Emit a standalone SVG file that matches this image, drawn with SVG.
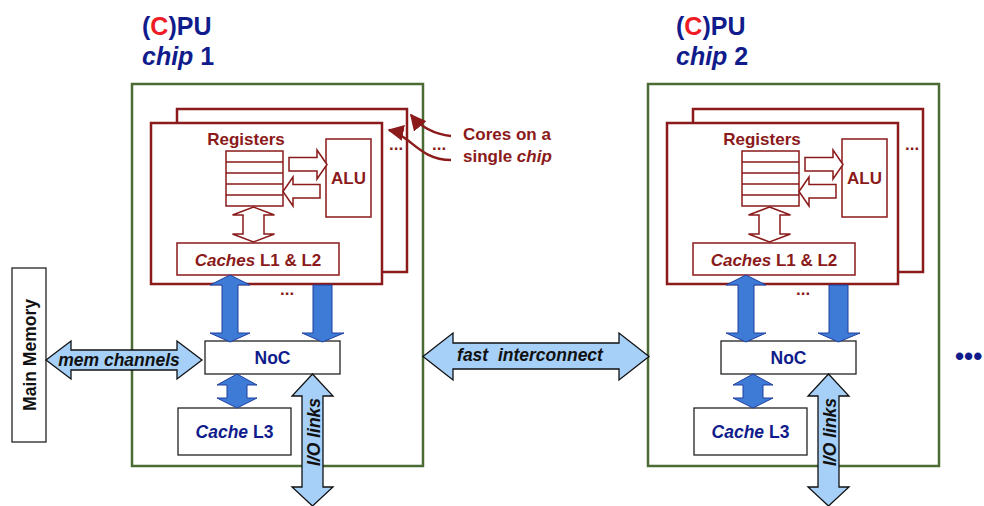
<svg xmlns="http://www.w3.org/2000/svg" width="984" height="506" viewBox="0 0 984 506">
  <defs>
    <style>
      text { font-family: "Liberation Sans", Arial, Helvetica, sans-serif; font-weight: bold; }
      .title { font-size: 25px; fill: #101C8C; }
      .red-c { fill: #EE1C25; }
      .chipbox { fill: #FFFFFF; stroke: #4A6B34; stroke-width: 2.5; }
      .core { fill: #FFFFFF; stroke: #8B1A1A; stroke-width: 2.5; }
      .inner { fill: #FFFFFF; stroke: #8B1A1A; stroke-width: 1.5; }
      .plain { fill: #FFFFFF; stroke: #222222; stroke-width: 1.3; }
      .dred { fill: #8B1A1A; font-size: 17px; }
      .navy { fill: #101C8C; font-size: 17.5px; }
      .blk { fill: #111111; font-size: 17.5px; }
      .hollow { fill: #FFFFFF; stroke: #8B1A1A; stroke-width: 1.5; stroke-linejoin: miter; }
      .solid { fill: #3E7BD6; stroke: #1F3E9E; stroke-width: 1; }
      .light { fill: #A6D0F8; stroke: #111111; stroke-width: 1.3; }
      .note { fill: none; stroke: #8B1A1A; stroke-width: 2.5; }
    </style>
    <marker id="redhead" viewBox="0 0 10 10" refX="9" refY="5" markerWidth="6.5" markerHeight="6.5" markerUnits="strokeWidth" orient="auto">
      <path d="M0,0 L10,5 L0,10 Z" fill="#8B1A1A"/>
    </marker>
  </defs>

  <rect width="984" height="506" fill="#FFFFFF"/>

  <!-- Chip 1 -->
  <g id="chip1">
    <text class="title" x="142" y="35">(<tspan class="red-c">C</tspan>)PU</text>
    <text class="title" x="142" y="65"><tspan font-style="italic">chip</tspan> 1</text>
    <rect class="chipbox" x="132" y="84" width="291" height="382"/>

    <g id="chip1-cores">
      <rect class="core" x="177" y="109" width="230" height="163"/>
      <rect class="core" x="151" y="123" width="231" height="161"/>
      <text class="dred" x="389" y="150" font-size="16">...</text>

      <g id="chip1-registers">
        <text class="dred" x="246" y="145" text-anchor="middle" font-size="17.5">Registers</text>
        <rect class="inner" x="226" y="151" width="57" height="55"/>
        <path d="M226,162 H283 M226,173 H283 M226,184 H283 M226,195 H283" stroke="#8B1A1A" stroke-width="1.5"/>
      </g>

      <g id="chip1-alu">
        <rect class="inner" x="326" y="139" width="45" height="78"/>
        <text class="dred" x="348.5" y="184" text-anchor="middle" font-size="16">ALU</text>
      </g>

      <g id="chip1-l1l2">
        <rect class="inner" x="177" y="243" width="162" height="32"/>
        <text class="dred" x="258" y="266" text-anchor="middle" font-size="17.5"><tspan font-style="italic">Caches</tspan> L1 &amp; L2</text>
      </g>
    </g>

    <g id="chip1-noc">
      <rect class="plain" x="205" y="341" width="135" height="33"/>
      <text class="navy" x="272.5" y="364" text-anchor="middle">NoC</text>
    </g>

    <g id="chip1-l3">
      <rect class="plain" x="178" y="408" width="113" height="47"/>
      <text class="navy" x="234.5" y="438" text-anchor="middle"><tspan font-style="italic">Cache</tspan> L3</text>
    </g>

    <text class="dred" x="280" y="295" font-size="14">...</text>
  </g>

  <!-- Annotation for the stacked cores -->
  <g id="cores-note">
    <text class="dred" x="463" y="140">Cores on a</text>
    <text class="dred" x="463" y="162">single <tspan font-style="italic">chip</tspan></text>
    <text class="dred" x="432" y="150" font-size="16">...</text>
    <path class="note" d="M451,136 C432,134 420,126 411,115" marker-end="url(#redhead)"/>
    <path class="note" d="M451,160 C428,160 416,146 406,139 C399,134 394,131 389,130" marker-end="url(#redhead)"/>
  </g>

  <!-- Main memory -->
  <g id="main-memory">
    <rect class="plain" x="12" y="268" width="34" height="174"/>
    <text class="blk" font-size="17" text-anchor="middle" transform="translate(36,355) rotate(-90)">Main Memory</text>
  </g>

  <!-- Chip 2 -->
  <g id="chip2" transform="translate(516,0)">
    <text class="title" x="160" y="35">(<tspan class="red-c">C</tspan>)PU</text>
    <text class="title" x="160" y="65"><tspan font-style="italic">chip</tspan> 2</text>
    <rect class="chipbox" x="132" y="84" width="291" height="382"/>

    <g id="chip2-cores">
      <rect class="core" x="177" y="109" width="230" height="163"/>
      <rect class="core" x="151" y="123" width="231" height="161"/>
      <text class="dred" x="389" y="150" font-size="16">...</text>

      <g id="chip2-registers">
        <text class="dred" x="246" y="145" text-anchor="middle" font-size="17.5">Registers</text>
        <rect class="inner" x="226" y="151" width="57" height="55"/>
        <path d="M226,162 H283 M226,173 H283 M226,184 H283 M226,195 H283" stroke="#8B1A1A" stroke-width="1.5"/>
      </g>

      <g id="chip2-alu">
        <rect class="inner" x="326" y="139" width="45" height="78"/>
        <text class="dred" x="348.5" y="184" text-anchor="middle" font-size="16">ALU</text>
      </g>

      <g id="chip2-l1l2">
        <rect class="inner" x="177" y="243" width="162" height="32"/>
        <text class="dred" x="258" y="266" text-anchor="middle" font-size="17.5"><tspan font-style="italic">Caches</tspan> L1 &amp; L2</text>
      </g>
    </g>

    <g id="chip2-noc">
      <rect class="plain" x="205" y="341" width="135" height="33"/>
      <text class="navy" x="272.5" y="364" text-anchor="middle">NoC</text>
    </g>

    <g id="chip2-l3">
      <rect class="plain" x="178" y="408" width="113" height="47"/>
      <text class="navy" x="234.5" y="438" text-anchor="middle"><tspan font-style="italic">Cache</tspan> L3</text>
    </g>

    <text class="dred" x="280" y="295" font-size="14">...</text>
  </g>

  <!-- More chips follow -->
  <text id="more-chips" x="955" y="365" font-size="26" fill="#101C8C">•••</text>

  <!-- Connectors -->
  <g id="connectors">
    <!-- chip 1 -->
    <polygon class="hollow" points="289,157.5 317,157.5 317,150 327,164.5 317,179 317,171 289,171"/>
    <polygon class="hollow" points="320,184.5 293,184.5 293,177 283,191.5 293,206 293,198 320,198"/>
    <polygon class="hollow" points="253.5,207 274.5,215 264,215 264,234 274.5,234 253.5,242 232.5,234 243,234 243,215 232.5,215"/>
    <polygon class="solid" points="230,275 250,285 238,285 238,333 250,333 230,342 210,333 222,333 222,285 210,285"/>
    <polygon class="solid" points="313,285 332,285 332,333 344,333 322.5,342 302,333 313,333"/>
    <polygon class="solid" points="237,374 257,385 247,385 247,398 257,398 237,408 217,398 227,398 227,385 217,385"/>

    <g id="chip1-io">
      <polygon class="light" points="312.5,374 333,396 323,396 323,487 333,487 312.5,506 292,487 302,487 302,396 292,396"/>
      <text class="blk" text-anchor="middle" font-style="italic" transform="translate(319.5,432) rotate(-90)">I/O links</text>
    </g>

    <g id="mem-channels">
      <polygon class="light" points="46,360 71,341 71,350 177,350 177,341 202,360 177,379 177,370 71,370 71,379"/>
      <text class="blk" x="119" y="366" text-anchor="middle" font-style="italic">mem channels</text>
    </g>

    <g id="fast-interconnect">
      <polygon class="light" points="423,356.5 453,333 453,343 619,343 619,333 649,356.5 619,380 619,369 453,369 453,380"/>
      <text class="blk" x="530" y="361" text-anchor="middle" font-style="italic" style="white-space:pre">fast  interconnect</text>
    </g>

    <!-- chip 2 -->
    <g transform="translate(516,0)">
      <polygon class="hollow" points="289,157.5 317,157.5 317,150 327,164.5 317,179 317,171 289,171"/>
      <polygon class="hollow" points="320,184.5 293,184.5 293,177 283,191.5 293,206 293,198 320,198"/>
      <polygon class="hollow" points="253.5,207 274.5,215 264,215 264,234 274.5,234 253.5,242 232.5,234 243,234 243,215 232.5,215"/>
      <polygon class="solid" points="230,275 250,285 238,285 238,333 250,333 230,342 210,333 222,333 222,285 210,285"/>
      <polygon class="solid" points="313,285 332,285 332,333 344,333 322.5,342 302,333 313,333"/>
      <polygon class="solid" points="237,374 257,385 247,385 247,398 257,398 237,408 217,398 227,398 227,385 217,385"/>
      <g id="chip2-io">
        <polygon class="light" points="312.5,374 333,396 323,396 323,487 333,487 312.5,506 292,487 302,487 302,396 292,396"/>
        <text class="blk" text-anchor="middle" font-style="italic" transform="translate(319.5,432) rotate(-90)">I/O links</text>
      </g>
    </g>
  </g>
</svg>
